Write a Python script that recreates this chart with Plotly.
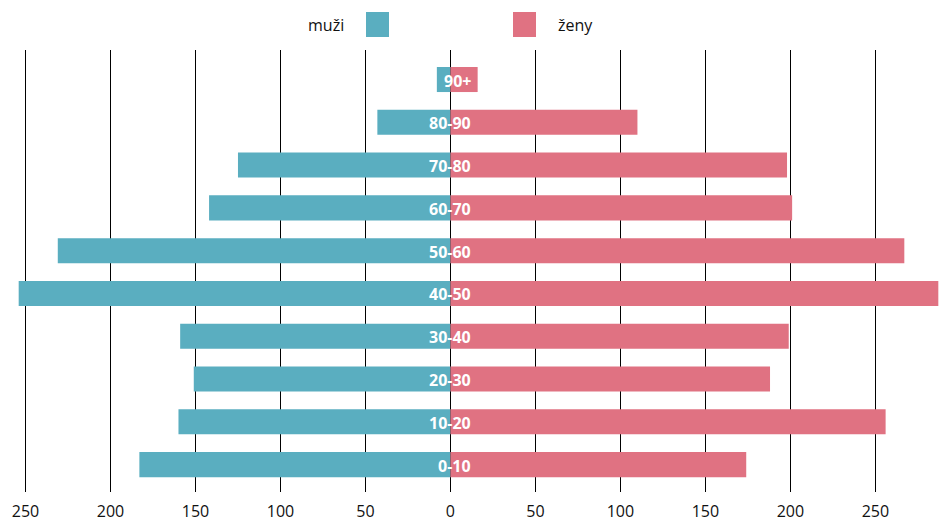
import plotly.graph_objects as go

categories = ["0-10", "10-20", "20-30", "30-40", "40-50", "50-60", "60-70", "70-80", "80-90", "90+"]
muzi = [183, 160, 151, 159, 254, 231, 142, 125, 43, 8]
zeny = [174, 256, 188, 199, 287, 267, 201, 198, 110, 16]
tick_values = [-250, -200, -150, -100, -50, 0, 50, 100, 150, 200, 250]
tick_labels = [str(abs(v)) for v in tick_values]

BLUE = "#5aaec0"
PINK = "#e07282"
FONT = "Open Sans"

fig = go.Figure()
fig.add_trace(go.Bar(y=categories, x=[-v for v in muzi], orientation="h", name="muži",
                     marker=dict(color=BLUE, line=dict(width=0)), width=0.585, hoverinfo="skip"))
fig.add_trace(go.Bar(y=categories, x=zeny, orientation="h", name="ženy",
                     marker=dict(color=PINK, line=dict(width=0)), width=0.585, hoverinfo="skip"))

for c in categories:
    fig.add_annotation(x=0, y=c, xref="x", yref="y", text="<b>%s</b>" % c, showarrow=False,
                       xanchor="right", xshift=23, yshift=-1,
                       font=dict(family=FONT, size=16, color="white"))

W, H = 939, 522
L, R, T, B = 18, 0, 50, 30
pw, ph = W - L - R, H - T - B

def px2paper_x(px):
    return (px - L) / pw

def px2paper_y(py):
    return 1 - (py - T) / ph

# legend
fig.add_annotation(x=px2paper_x(346), y=px2paper_y(25), xref="paper", yref="paper", text="muži",
                   showarrow=False, font=dict(family=FONT, size=16, color="#111"),
                   xanchor="right", yanchor="middle")
fig.add_annotation(x=px2paper_x(556), y=px2paper_y(25), xref="paper", yref="paper", text="ženy",
                   showarrow=False, font=dict(family=FONT, size=16, color="#111"),
                   xanchor="left", yanchor="middle")
fig.add_shape(type="rect", xref="paper", yref="paper",
              x0=px2paper_x(366), x1=px2paper_x(389), y0=px2paper_y(37), y1=px2paper_y(12),
              fillcolor=BLUE, line=dict(width=0))
fig.add_shape(type="rect", xref="paper", yref="paper",
              x0=px2paper_x(513), x1=px2paper_x(536), y0=px2paper_y(37), y1=px2paper_y(12),
              fillcolor=PINK, line=dict(width=0))

fig.update_layout(
    width=W, height=H,
    margin=dict(l=L, r=R, t=T, b=B),
    paper_bgcolor="white", plot_bgcolor="white",
    barmode="overlay", showlegend=False,
    font=dict(family=FONT, size=15, color="#111"),
    xaxis=dict(range=[-254.4, 287.4], tickvals=tick_values, ticktext=tick_labels,
               showgrid=True, gridcolor="#000", gridwidth=1, zeroline=True, zerolinecolor="#000",
               zerolinewidth=1, showline=False, ticks="", tickfont=dict(size=16, color="#111"),
               ticklabelstandoff=8, automargin=False, fixedrange=True),
    yaxis=dict(range=[-0.64, 9.69], showticklabels=False, showgrid=False, zeroline=False,
               ticks="", categoryorder="array", categoryarray=categories, fixedrange=True,
               automargin=False),
)

fig.write_html("out.html", config={"displayModeBar": False},
               post_script="document.body.style.margin='0';document.body.style.overflow='hidden';")
